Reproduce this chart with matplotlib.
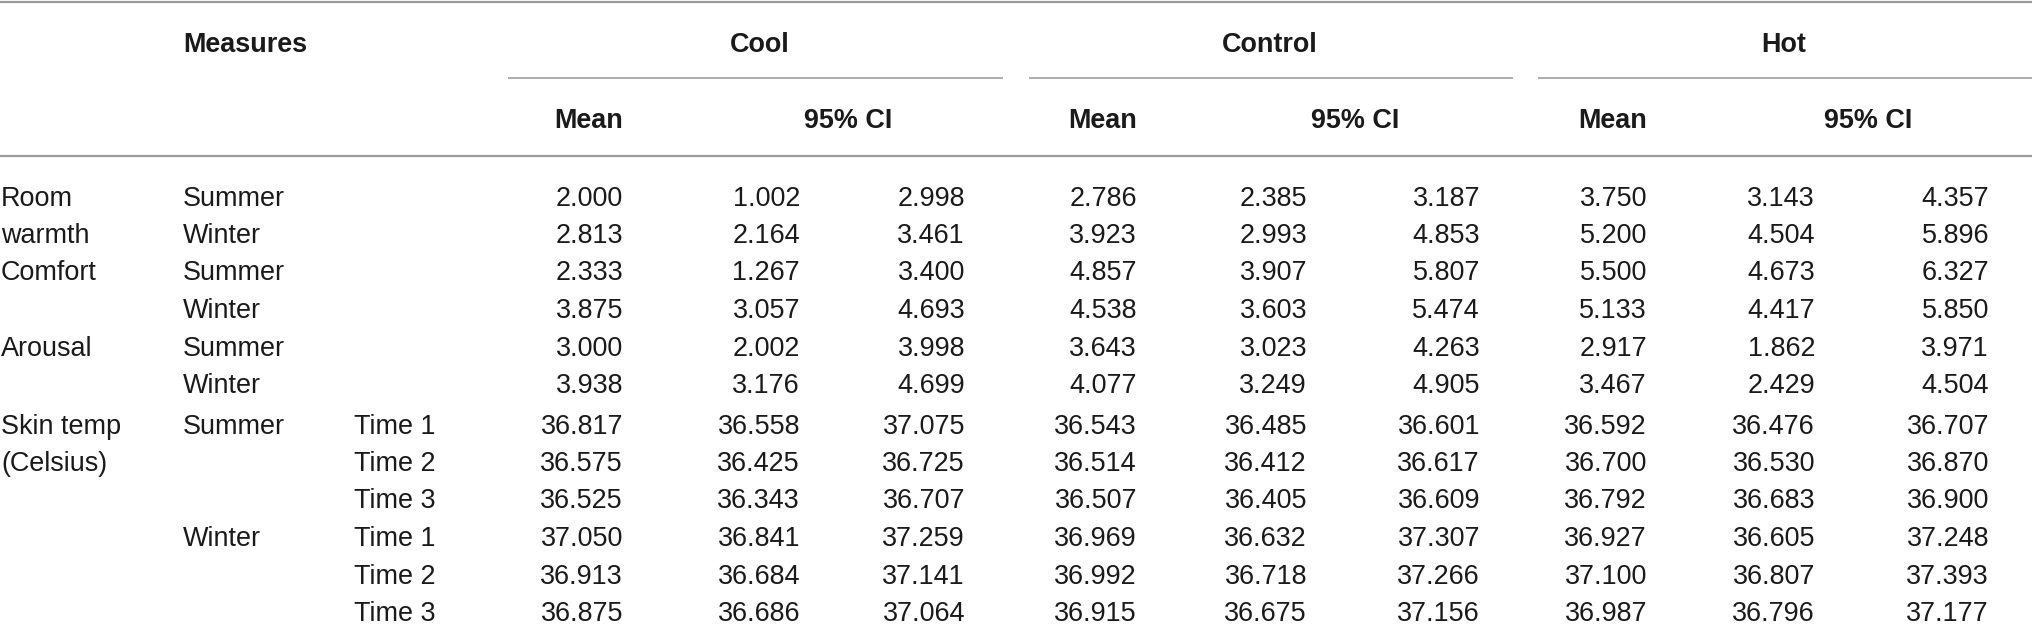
import matplotlib
matplotlib.use("Agg")
import matplotlib.pyplot as plt

# ---- data ----
measures = ["Room", "warmth", "Comfort", "", "Arousal", "", "Skin temp", "(Celsius)", "", "", "", ""]
seasons = ["Summer", "Winter", "Summer", "Winter", "Summer", "Winter", "Summer", "", "", "Winter", "", ""]
times = ["", "", "", "", "", "", "Time 1", "Time 2", "Time 3", "Time 1", "Time 2", "Time 3"]
groups = ["Cool", "Control", "Hot"]
sub_headers = ["Mean", "95% CI"]

cool_mean = ["2.000", "2.813", "2.333", "3.875", "3.000", "3.938", "36.817", "36.575", "36.525", "37.050", "36.913", "36.875"]
cool_lo = ["1.002", "2.164", "1.267", "3.057", "2.002", "3.176", "36.558", "36.425", "36.343", "36.841", "36.684", "36.686"]
cool_hi = ["2.998", "3.461", "3.400", "4.693", "3.998", "4.699", "37.075", "36.725", "36.707", "37.259", "37.141", "37.064"]
control_mean = ["2.786", "3.923", "4.857", "4.538", "3.643", "4.077", "36.543", "36.514", "36.507", "36.969", "36.992", "36.915"]
control_lo = ["2.385", "2.993", "3.907", "3.603", "3.023", "3.249", "36.485", "36.412", "36.405", "36.632", "36.718", "36.675"]
control_hi = ["3.187", "4.853", "5.807", "5.474", "4.263", "4.905", "36.601", "36.617", "36.609", "37.307", "37.266", "37.156"]
hot_mean = ["3.750", "5.200", "5.500", "5.133", "2.917", "3.467", "36.592", "36.700", "36.792", "36.927", "37.100", "36.987"]
hot_lo = ["3.143", "4.504", "4.673", "4.417", "1.862", "2.429", "36.476", "36.530", "36.683", "36.605", "36.807", "36.796"]
hot_hi = ["4.357", "5.896", "6.327", "5.850", "3.971", "4.504", "36.707", "36.870", "36.900", "37.248", "37.393", "37.177"]

# ---- layout (pixel coordinates) ----
W, H = 2032, 626
fig = plt.figure(figsize=(W / 100, H / 100), dpi=100)
ax = fig.add_axes([0, 0, 1, 1])
ax.set_xlim(0, W)
ax.set_ylim(H, 0)
ax.axis("off")

FS = 27 * 72 / 100  # 27 px
FONT = ["Liberation Sans", "DejaVu Sans"]
TXT = "#1a1a1a"
LINE = "#9a9a9a"
BASE = 9.5  # baseline offset from row centre

def t(x, y, s, ha="left", bold=False):
    ax.text(x, y + BASE, s, ha=ha, va="baseline", fontsize=FS, family=FONT,
            fontweight="bold" if bold else "normal", color=TXT)

# rules
ax.plot([0, W], [1.5, 1.5], color=LINE, lw=2.2 * 72 / 100, solid_capstyle="butt")
ax.plot([0, W], [156, 156], color=LINE, lw=2.2 * 72 / 100, solid_capstyle="butt")
group_spans = [(508, 1003), (1029, 1513), (1538, W)]
for (a, b) in group_spans:
    ax.plot([a, b], [78, 78], color=LINE, lw=1.6 * 72 / 100, solid_capstyle="butt")

# header
t(183, 42, "Measures", bold=True)
group_centres = [760, 1270, 1784]
ci_centres = [848, 1355, 1868]
mean_right = [623, 1137, 1647]
lo_right = [800, 1307, 1815]
hi_right = [965, 1480, 1989]
for g, gc, cc, mr in zip(groups, group_centres, ci_centres, mean_right):
    t(gc, 42, g, ha="center", bold=True)
    t(mr, 118, sub_headers[0], ha="right", bold=True)
    t(cc, 118, sub_headers[1], ha="center", bold=True)

# body
cols = [(cool_mean, cool_lo, cool_hi), (control_mean, control_lo, control_hi), (hot_mean, hot_lo, hot_hi)]
for i in range(len(seasons)):
    y = 196 + 37.5 * i + (3 if i >= 6 else 0)
    t(1, y, measures[i])
    t(183, y, seasons[i])
    t(354, y, times[i])
    for gi, (m, lo, hi) in enumerate(cols):
        t(mean_right[gi], y, m[i], ha="right")
        t(lo_right[gi], y, lo[i], ha="right")
        t(hi_right[gi], y, hi[i], ha="right")

fig.savefig("out.png", dpi=100)
